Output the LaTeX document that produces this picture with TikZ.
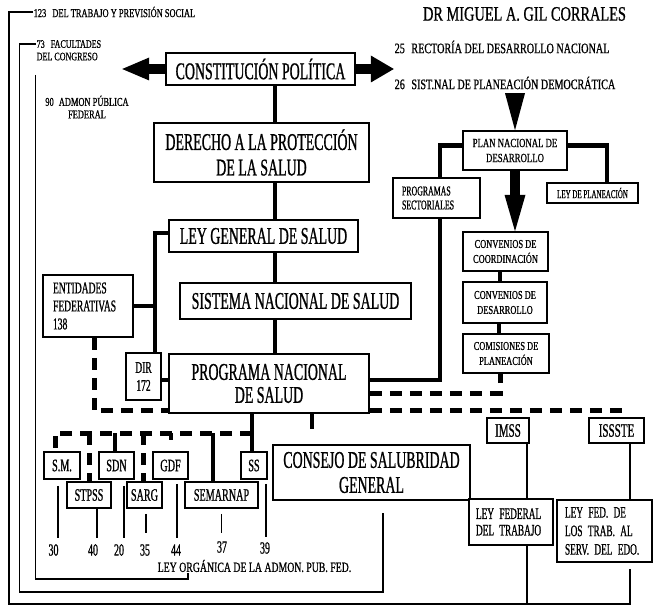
\documentclass[tikz,border=0pt]{standalone}
\usepackage{fontspec}
\setmainfont{Liberation Serif}
\newfontfamily\nf{Liberation Serif}[FakeStretch=0.58,FakeBold=0.8]
\newfontfamily\wf{Liberation Serif}[FakeStretch=0.70,FakeBold=0.8]
\newcommand{\fsz}[2]{\fontsize{#1}{#2}\selectfont}
\usetikzlibrary{calc}
\tikzset{
  bx/.style={draw,line width=1.6pt,inner sep=0pt,align=center,fill=white},
  wh/.style 2 args={minimum width=#1pt,minimum height=#2pt},
  lbl/.style={inner sep=0.5pt},
  thk/.style={line width=4pt},
  thn/.style={line width=1.4pt},
  dsh/.style={line width=5pt,dash pattern=on 12pt off 8pt},
  num/.style={inner sep=0pt,font=\nf\fsz{17}{17}},
  ag/.style={bx,font=\nf\fsz{17.5}{18}}
}
\begin{document}
\begin{tikzpicture}[x=1pt,y=-1pt]
\useasboundingbox (0,0) rectangle (653,607);
\fill[white] (0,0) rectangle (653,607);

% ---------- free labels ----------
\node[inner sep=0pt,font=\wf\fsz{20.5}{22}] (title) at (524.5,14) {DR MIGUEL A. GIL CORRALES};
\node[lbl,anchor=west,font=\wf\fsz{14.5}{15}] (l25) at (394,47) {25\hspace{4pt} RECTORÍA DEL DESARROLLO NACIONAL};
\node[lbl,anchor=west,font=\wf\fsz{14.5}{15}] (l26) at (394,83) {26\hspace{4pt} SIST.NAL DE PLANEACIÓN DEMOCRÁTICA};
\node[lbl,anchor=west,font=\wf\fsz{12}{13}] (l123) at (33,12) {123\hspace{4pt} DEL TRABAJO Y PREVISIÓN SOCIAL};
\node[lbl,anchor=north west,align=left,font=\wf\fsz{11.5}{12.5}] (l73) at (36,39.5) {73\hspace{4pt} FACULTADES\\DEL CONGRESO};
\node[lbl,align=center,font=\wf\fsz{12}{12.5}] (l90) at (87,107) {90\hspace{3pt} ADMON PÚBLICA\\FEDERAL};
\node[lbl,font=\wf\fsz{14}{15}] (lorg) at (254.5,566) {LEY ORGÁNICA DE LA ADMON. PUB. FED.};

% ---------- main boxes ----------
\node[bx,wh={189}{32},font=\nf\fsz{24}{25}] (const) at (260.5,69) {CONSTITUCIÓN POLÍTICA};
\node[bx,wh={215}{59},font=\nf\fsz{24}{25.5}] (derecho) at (261.5,152.5) {DERECHO A LA PROTECCIÓN\\DE LA SALUD};
\node[bx,wh={189}{32},font=\nf\fsz{24}{25}] (leygen) at (263.5,236) {LEY GENERAL DE SALUD};
\node[bx,wh={231}{36},font=\nf\fsz{24}{25}] (sistema) at (295.5,301) {SISTEMA NACIONAL DE SALUD};
\node[bx,wh={200}{59},font=\nf\fsz{24}{23}] (programa) at (269,383.5) {PROGRAMA NACIONAL\\DE SALUD};
\node[bx,wh={35}{47},font=\nf\fsz{16.5}{18}] (dir) at (143.5,376.5) {DIR\\172};
\node[bx,wh={90}{62},text width=70pt,align=left,font=\nf\fsz{16.5}{18}] (ent) at (88,306) {ENTIDADES\\FEDERATIVAS\\138};
\node[bx,wh={197}{55},font=\nf\fsz{24}{25}] (consejo) at (371.5,472.5) {CONSEJO DE SALUBRIDAD\\GENERAL};

% ---------- planning column ----------
\node[bx,wh={104}{39},font=\wf\fsz{12.5}{15}] (plan) at (515,150.5) {PLAN NACIONAL DE\\DESARROLLO};
\node[bx,wh={87}{40},text width=69pt,align=left,font=\nf\fsz{13.5}{14}] (progsec) at (436.5,198) {PROGRAMAS\\SECTORIALES};
\node[bx,wh={91}{20},font=\nf\fsz{12}{13}] (leyplan) at (592.5,193) {LEY DE PLANEACIÓN};
\node[bx,wh={85}{39},font=\wf\fsz{12}{15}] (conv1) at (505.5,251.5) {CONVENIOS DE\\COORDINACIÓN};
\node[bx,wh={84}{41},font=\wf\fsz{12}{15}] (conv2) at (505,302.5) {CONVENIOS DE\\DESARROLLO};
\node[bx,wh={86}{39},font=\wf\fsz{12}{15}] (comis) at (506,353.5) {COMISIONES DE\\PLANEACIÓN};

% ---------- social security ----------
\node[bx,wh={42}{25},font=\nf\fsz{19}{20}] (imss) at (508,430.5) {IMSS};
\node[bx,wh={55}{25},font=\nf\fsz{19}{20}] (issste) at (616.5,430.5) {ISSSTE};
\node[bx,wh={84}{46},text width=70pt,align=left,font=\nf\fsz{16}{16.5}] (leyfed) at (511,522) {LEY FEDERAL\\DEL TRABAJO};
\node[bx,wh={95}{62},text width=79pt,align=left,font=\nf\fsz{16}{18.5}] (leyfdt) at (604.5,531) {LEY FED. DE\\LOS TRAB. AL\\SERV. DEL EDO.};

% ---------- agencies ----------
\node[ag,wh={36}{27}] (sm) at (62,465.5) {S.M.};
\node[ag,wh={44}{26}] (stpss) at (89,495) {STPSS};
\node[ag,wh={35}{27}] (sdn) at (116.5,465.5) {SDN};
\node[ag,wh={35}{26}] (sarg) at (144.5,495) {SARG};
\node[ag,wh={35}{27}] (gdf) at (170.5,465.5) {GDF};
\node[ag,wh={73}{26}] (semarnap) at (221.5,495) {SEMARNAP};
\node[ag,wh={26}{27}] (ss) at (254,465.5) {SS};

\node[num] (n30) at (53.5,550) {30};
\node[num] (n40) at (93,550) {40};
\node[num] (n20) at (119,550) {20};
\node[num] (n35) at (145,550) {35};
\node[num] (n44) at (176,550) {44};
\node[num] (n37) at (222,547) {37};
\node[num] (n39) at (265,548) {39};

% ---------- helper coordinates ----------
\coordinate (spx) at (275,0);
\coordinate (busy) at (0,433);
\coordinate (boty) at (0,604);
\coordinate (ox) at (9,0);
\coordinate (o2x) at (19.5,0);
\coordinate (b2y) at (0,592);
\coordinate (c90) at (35.5,75);
\coordinate (b3y) at (0,579);
\coordinate (jx) at ([xshift=11.5pt]dir.north);
\coordinate (ssx) at ([xshift=-2pt]ss.north);

% ---------- spine ----------
\draw[thk] (const.south -| spx) -- (derecho.north -| spx);
\draw[thk] (derecho.south -| spx) -- (leygen.north -| spx);
\draw[thk] (leygen.south -| spx) -- (sistema.north -| spx);
\draw[thk] (sistema.south -| spx) -- (programa.north -| spx);

% ---------- big arrows from the constitution ----------
\draw[line width=10pt] (const.west) -- ++(-16,0) coordinate (lah);
\fill (lah) ++(0,-11.5) -- ++(0,23) -- ++(-27,-11.5) -- cycle;
\draw[line width=10pt] (const.east) -- ++(15,0) coordinate (rah);
\fill (rah) ++(0,-13.5) -- ++(0,27) -- ++(23,-13.5) -- cycle;

% ---------- planning arrows ----------
\fill (plan.north) -- ++(-10,-37) -- ++(20,0) -- cycle;
\draw[line width=10pt] (plan.south) -- ++(0,24) coordinate (dah);
\fill (dah) ++(-10.5,0) -- ++(21,0) -- (plan.south |- conv1.north) -- cycle;
\draw[thk] ([xshift=-6pt]conv1.south) -- ([xshift=-6pt]conv1.south |- conv2.north);
\draw[thk] ([xshift=-6pt]conv2.south) -- ([xshift=-6pt]conv2.south |- comis.north);
\draw[line width=4.5pt] ([yshift=5pt]plan.west) -| ([xshift=3.5pt]progsec.north);
\draw[line width=4.5pt] ([yshift=5pt]plan.east) -| ([xshift=14.5pt]leyplan.north);
\draw[thk] ([xshift=3.5pt]progsec.south) |- ([yshift=4pt]programa.east);

% ---------- dashed links ----------
\draw[dsh] ([yshift=-9.5pt]programa.east) -| ([xshift=-6pt]comis.south);
\draw[dsh] ([yshift=3pt]programa.south east) -| ([xshift=6.5pt]issste.north);
\draw[dsh] ([xshift=6pt]ent.south) |- ([yshift=3pt]programa.south west);

% ---------- left links ----------
\draw[thk] ([yshift=3pt]leygen.west) -| (jx);
\draw[thk] (ent.east) -- (ent.east -| jx);
\draw[thk] ([yshift=-3.5pt]dir.east) -- ([yshift=-3.5pt]dir.east -| programa.west);

% ---------- agencies bus ----------
\draw[thk] (ssx |- programa.south) -- (ssx);
\draw[dsh] (ssx |- busy) -| ([xshift=-7pt]sm.north);
\draw[dsh] (stpss.north |- busy) -- (stpss.north);
\draw[thk] ([xshift=-1.5pt]sdn.north |- busy) -- ([xshift=-1.5pt]sdn.north);
\draw[dsh] ([xshift=-1.5pt]sarg.north |- busy) -- ([xshift=-1.5pt]sarg.north);
\draw[thk] (gdf.north |- busy) -- ++(0,7) coordinate (gdfstub);
\draw[thk] ([xshift=-8.5pt]semarnap.north |- busy) -- ([xshift=-8.5pt]semarnap.north);
\draw[thk] ([xshift=43pt]programa.south) -- ++(0,15) coordinate (cjstub);

% ---------- article ticks ----------
\draw[thn,shorten <=6pt,shorten >=6pt] ([xshift=-4pt]sm.south) -- ([xshift=-4pt]sm.south |- n30.north);
\draw[thn,shorten >=6pt] ([xshift=8pt]stpss.south) -- ([xshift=8pt]stpss.south |- n40.north);
\draw[thn,shorten <=6pt,shorten >=6pt] ([xshift=7.5pt]sdn.south) -- ([xshift=7.5pt]sdn.south |- n20.north);
\draw[thn,shorten <=5pt,shorten >=11pt] ([xshift=1.5pt]sarg.south) -- ([xshift=1.5pt]sarg.south |- n35.north);
\draw[thn,shorten <=4pt,shorten >=6pt] ([xshift=6.5pt]gdf.south) -- ([xshift=6.5pt]gdf.south |- n44.north);
\draw[thn,shorten <=5pt,shorten >=8pt] (semarnap.south) -- (semarnap.south |- n37.north);
\draw[thn,shorten <=4pt,shorten >=5pt] ([xshift=12pt]ss.south) -- ([xshift=12pt]ss.south |- n39.north);

% ---------- right column ----------
\draw[thn] ([xshift=19pt]imss.south) -- ([xshift=19pt]imss.south |- leyfed.north);
\draw[thn] ([xshift=13.5pt]issste.south) -- ([xshift=13.5pt]issste.south |- leyfdt.north);
\draw[thn] ([xshift=16pt]leyfed.south) -- ([xshift=16pt]leyfed.south |- boty);

% ---------- long frame lines ----------
\draw[thn,shorten >=6pt] (l123.west) -- (l123.west -| ox) -- (ox |- boty) -| ([xshift=25.5pt]leyfdt.south);
\draw[thn,shorten >=12pt] ([yshift=-4.5pt]l73.north west) -- ([yshift=-4.5pt]l73.north west -| o2x) -- (o2x |- b2y) -| ([xshift=11.5pt]consejo.south);
\draw[thn] (c90) -- (c90 |- b3y) -| ([xshift=-66.5pt]lorg.south);
\end{tikzpicture}
\end{document}
